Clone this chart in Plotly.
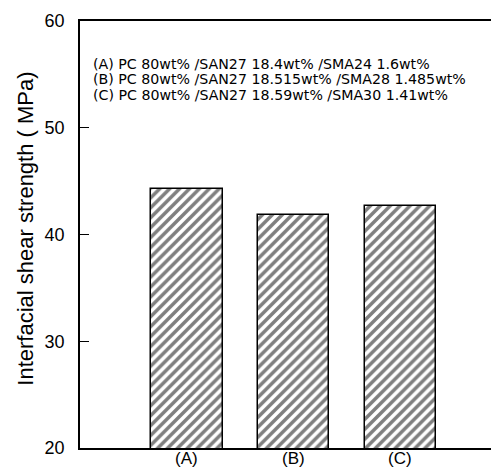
import plotly.graph_objects as go

categories = ["(A)", "(B)", "(C)"]
strength = [44.3, 41.8, 42.7]
y_ticks = [20, 30, 40, 50, 60]
legend_lines = [
    "(A) PC 80wt% /SAN27 18.4wt% /SMA24 1.6wt%",
    "(B) PC 80wt% /SAN27 18.515wt% /SMA28 1.485wt%",
    "(C) PC 80wt% /SAN27 18.59wt% /SMA30 1.41wt%",
]
legend_y = [0.8993, 0.8630, 0.8267]
y_title = "Interfacial shear strength ( MPa)"

FONT = "Liberation Sans, Arial, sans-serif"

fig = go.Figure()
fig.add_trace(go.Bar(
    x=list(range(len(categories))),
    y=strength,
    width=0.67,
    marker=dict(
        color="white",
        line=dict(color="black", width=1.5),
        pattern=dict(shape="/", fgcolor="black", bgcolor="white", size=7, solidity=0.5),
    ),
    showlegend=False,
))

for line, yy in zip(legend_lines, legend_y):
    fig.add_annotation(
        x=0.027, y=yy, xref="paper", yref="paper",
        xanchor="left", yanchor="middle", align="left", showarrow=False,
        text=line,
        font=dict(family="DejaVu Sans, sans-serif", size=14.2, color="black"),
    )

for i, cat in enumerate(categories):
    fig.add_annotation(
        x=i, y=0, xref="x", yref="paper",
        xanchor="center", yanchor="middle", yshift=-10, showarrow=False,
        text=cat,
        font=dict(family=FONT, size=17, color="black"),
    )

fig.add_annotation(
    x=-0.128, y=0.513, xref="paper", yref="paper",
    xanchor="center", yanchor="middle", textangle=-90, showarrow=False,
    text=y_title,
    font=dict(family=FONT, size=22, color="black"),
)

fig.update_layout(
    width=499, height=469,
    margin=dict(l=72, r=1, t=13, b=29),
    paper_bgcolor="white", plot_bgcolor="white",
    font=dict(family=FONT, color="black"),
    bargap=0,
)
fig.update_xaxes(
    range=[-1.0, 2.97],
    tickmode="array", tickvals=list(range(len(categories))), ticktext=categories,
    showticklabels=False,
    ticks="", ticklen=0, showgrid=False, zeroline=False,
    showline=True, linecolor="black", linewidth=1.5, mirror=True,
)
fig.update_yaxes(
    range=[20, 60],
    tickmode="array", tickvals=y_ticks,
    ticks="inside", ticklen=9, tickwidth=1.2, tickcolor="black",
    ticklabelstandoff=10,
    showgrid=False, zeroline=False,
    showline=True, linecolor="black", linewidth=1.5, mirror=True,
    tickfont=dict(size=18, family=FONT),
)

fig.write_html("out.html")
